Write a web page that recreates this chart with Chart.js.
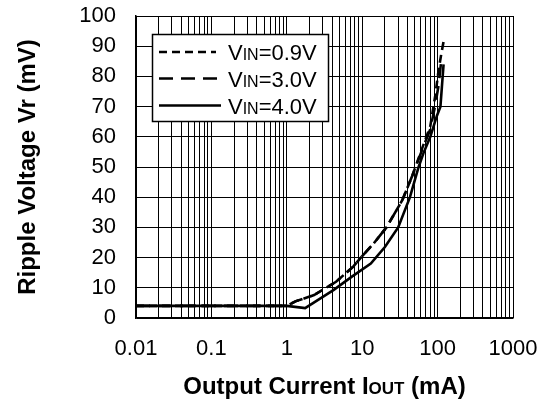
<!DOCTYPE html>
<html>
<head>
<meta charset="utf-8">
<script src="https://cdn.jsdelivr.net/npm/chart.js@4.4.0/dist/chart.umd.min.js"></script>
<style>
  html, body { margin: 0; padding: 0; background: #fff; }
  #wrap { width: 546px; height: 402px; }
</style>
</head>
<body>
<div id="wrap"><canvas id="chart"></canvas></div>
<script>
// tick labels
var xDecades = [0.01, 0.1, 1, 10, 100, 1000];
var xTickLabels = ['0.01', '0.1', '1', '10', '100', '1000'];
var yTicks = [0, 10, 20, 30, 40, 50, 60, 70, 80, 90, 100];

var seriesLabels = ['VIN=0.9V', 'VIN=3.0V', 'VIN=4.0V'];

// VIN = 0.9V
var iout09 = [0.01, 0.1, 1.0, 1.3, 2.3, 4.5, 7.6, 10, 14, 21, 34, 46, 62, 80, 93, 103, 112, 120];
var vr09   = [4, 4, 4, 5.5, 7.6, 12, 17, 20.5, 24.5, 30, 39, 47, 56, 63.5, 73.5, 82, 87.5, 91.5];
// VIN = 3.0V
var iout30 = [0.01, 0.1, 1.0, 1.3, 2.3, 4.5, 7.6, 10, 14, 21, 34, 46, 62, 80, 93, 103, 111];
var vr30   = [4, 4, 4, 5.5, 7.6, 12, 17, 20.5, 24.5, 30, 39, 47, 55.5, 62.5, 70.5, 77, 84.5];
// VIN = 4.0V
var iout40 = [0.01, 0.1, 1.0, 1.75, 4.2, 7.3, 13, 20, 30, 43, 56, 65, 80, 98, 109, 114, 120];
var vr40   = [4, 4, 4, 3.3, 9.3, 13.7, 18, 23.5, 30, 40, 50, 54.6, 60, 67, 70, 76.5, 84];

function pts(xs, ys) {
  return xs.map(function (x, i) { return { x: x, y: ys[i] }; });
}

// grid lines at 1..9 x each decade
var xGrid = [];
for (var d = 0; d < xDecades.length - 1; d++) {
  xGrid.push(xDecades[d]);
  for (var m = 2; m <= 9; m++) xGrid.push(xDecades[d] * m);
}
xGrid.push(xDecades[xDecades.length - 1]);

var FONT = "'Liberation Sans', Arial, Helvetica, sans-serif";

function drawRich(ctx, parts, x, y, align) {
  var total = 0;
  parts.forEach(function (p) { ctx.font = p[1]; total += ctx.measureText(p[0]).width; });
  var cx = align === 'center' ? x - total / 2 : x;
  ctx.textAlign = 'left';
  ctx.textBaseline = 'alphabetic';
  parts.forEach(function (p) {
    ctx.font = p[1];
    ctx.fillText(p[0], cx, y);
    cx += ctx.measureText(p[0]).width;
  });
}

var textPlugin = {
  id: 'textPlugin',
  afterDraw: function (chart) {
    var ctx = chart.ctx, a = chart.chartArea;
    ctx.save();
    ctx.fillStyle = '#000';
    var big = 'bold 24px ' + FONT, small = 'bold 17px ' + FONT;
    // x title
    drawRich(ctx, [['Output Current I', big], ['OUT', small], [' (mA)', big]],
      (a.left + a.right) / 2, 393.5, 'center');
    // y title
    ctx.translate(34.5, (a.top + a.bottom) / 2);
    ctx.rotate(-Math.PI / 2);
    drawRich(ctx, [['Ripple Voltage Vr (mV)', big]], 0, 0, 'center');
    ctx.restore();

    // legend box
    ctx.save();
    var bx = 152.5, by = 34.5, bw = 176, bh = 87;
    ctx.fillStyle = '#fff';
    ctx.fillRect(bx, by, bw, bh);
    ctx.strokeStyle = '#000';
    ctx.lineWidth = 1.5;
    ctx.strokeRect(bx, by, bw, bh);
    var rowY = [52, 78.5, 105.5];
    chart.data.datasets.forEach(function (ds, i) {
      ctx.beginPath();
      ctx.setLineDash(ds.borderDash || []);
      ctx.lineWidth = ds.borderWidth;
      ctx.strokeStyle = ds.borderColor;
      ctx.moveTo(159, rowY[i]);
      ctx.lineTo(i === 0 ? 216 : 221, rowY[i]);
      ctx.stroke();
      ctx.setLineDash([]);
      ctx.fillStyle = '#000';
      var lb = ds.label;
      drawRich(ctx, [[lb.slice(0, 1), '22px ' + FONT], [lb.slice(1, 3), '16px ' + FONT],
        [lb.slice(3), '22px ' + FONT]], 228, rowY[i] + 8, 'left');
    });
    ctx.restore();
  }
};

new Chart(document.getElementById('chart'), {
  type: 'line',
  data: {
    datasets: [
      { label: seriesLabels[0], data: pts(iout09, vr09), borderColor: '#000', borderWidth: 2.6,
        borderDash: [8, 5], pointRadius: 0, tension: 0, fill: false },
      { label: seriesLabels[1], data: pts(iout30, vr30), borderColor: '#000', borderWidth: 2.6,
        borderDash: [14, 8], pointRadius: 0, tension: 0, fill: false },
      { label: seriesLabels[2], data: pts(iout40, vr40), borderColor: '#000', borderWidth: 2.6,
        pointRadius: 0, tension: 0, fill: false }
    ]
  },
  options: {
    responsive: true,
    maintainAspectRatio: false,
    animation: false,
    layout: { padding: { top: 16, right: 33, left: 0, bottom: 0 } },
    plugins: { legend: { display: false }, tooltip: { enabled: false } },
    scales: {
      x: {
        type: 'logarithmic',
        min: 0.01,
        max: 1000,
        afterBuildTicks: function (s) { s.ticks = xGrid.map(function (v) { return { value: v }; }); },
        afterFit: function (s) { s.height = 84; s.paddingLeft = 0; s.paddingRight = 0; },
        grid: { color: '#000', lineWidth: 1, drawTicks: false },
        border: { display: true, color: '#000', width: 1.5 },
        ticks: {
          autoSkip: false, maxRotation: 0, padding: 18, color: '#000',
          font: { family: FONT, size: 22 },
          callback: function (v) {
            var i = xDecades.indexOf(v);
            return i >= 0 ? xTickLabels[i] : '';
          }
        }
      },
      y: {
        min: 0,
        max: 100,
        afterBuildTicks: function (s) { s.ticks = yTicks.map(function (v) { return { value: v }; }); },
        afterFit: function (s) { s.width = 136; s.paddingTop = 0; s.paddingBottom = 0; },
        grid: { color: '#000', lineWidth: 1, drawTicks: false },
        border: { display: true, color: '#000', width: 1.5 },
        ticks: { autoSkip: false, padding: 20, color: '#000', font: { family: FONT, size: 22 } }
      }
    }
  },
  plugins: [textPlugin]
});
</script>
</body>
</html>
